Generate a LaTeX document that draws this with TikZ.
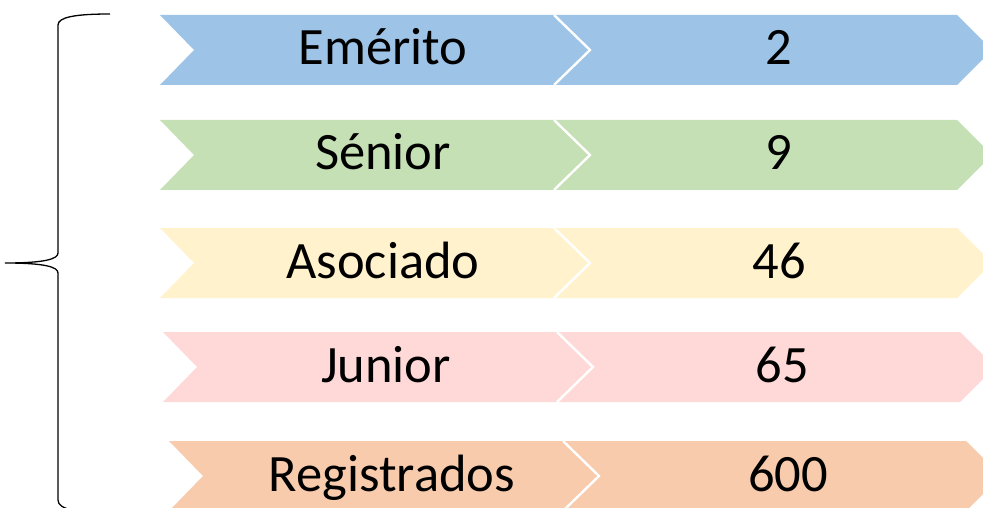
\documentclass[tikz,border=0pt]{standalone}
\usepackage{fontspec}
\setmainfont{Carlito}
\definecolor{cblue}{HTML}{9DC3E6}
\definecolor{cgreen}{HTML}{C5E0B4}
\definecolor{cyellow}{HTML}{FFF2CC}
\definecolor{cpink}{HTML}{FFD8D8}
\definecolor{corange}{HTML}{F8CBAD}
\tikzset{
  chev/.style={draw=white, line width=2.4pt, line join=miter},
  lbl/.style={anchor=base, inner sep=0pt, font=\fontsize{52.5}{60}\selectfont},
  brace/.style={draw=black, line width=1.3pt}
}
\begin{document}
\begin{tikzpicture}[x=1pt,y=-1pt]
\useasboundingbox (0,0) rectangle (983,508);
\begin{scope}
\clip (0,0) rectangle (983,508);
\foreach \t/\o/\c/\lab/\num/\n in {15/0/cblue/Emérito/2/a, 120/0/cgreen/Sénior/9/b, 228/0/cyellow/Asociado/46/c, 332/3/cpink/Junior/65/d, 441/9/corange/Registrados/600/e}{
  \pgfmathsetmacro{\b}{\t+70}
  \pgfmathsetmacro{\m}{\t+35}
  \pgfmathsetmacro{\L}{160+\o}
  \pgfmathsetmacro{\W}{554+\o}
  \pgfmathsetmacro{\R}{957+\o}
  \fill[\c] (\L,\t) -- (\W,\t) -- (\W+36,\m) -- (\W,\b) -- (\L,\b) -- (\L+34,\m) -- cycle;
  \fill[\c] (\W,\t) -- (\R,\t) -- (\R+35,\m) -- (\R,\b) -- (\W,\b) -- (\W+36,\m) -- cycle;
  \draw[chev] (\W,\t) -- (\W+36,\m) -- (\W,\b);
  \node[lbl] (lab\n) at (383+\o,\t+50) {\lab};
  \node[lbl] (num\n) at (779+\o,\t+50) {\num};
}
\end{scope}
\coordinate (btop) at (110,14);
\coordinate (bmid) at (5,263);
\coordinate (bbot) at (72,510);
\draw[brace] (btop) .. controls (76,14) and (58,17) .. (58,25) -- (58,253) .. controls (58,259) and (45,263) .. (bmid) .. controls (45,263) and (58,267) .. (58,273) -- (58,500) .. controls (58,505) and (63,508) .. (bbot);
\end{tikzpicture}
\end{document}
